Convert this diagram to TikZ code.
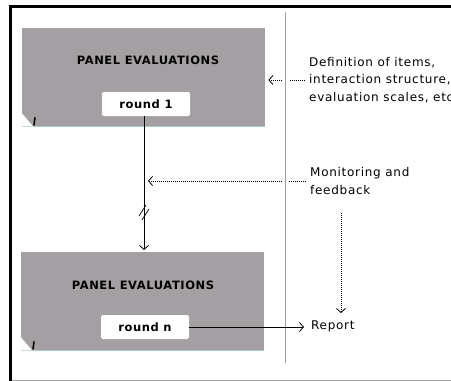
\documentclass[tikz,border=0pt]{standalone}
\usepackage{fontspec}
\setmainfont{DejaVu Sans}
\usetikzlibrary{arrows.meta}
\definecolor{panelgray}{HTML}{A49FA3}
\definecolor{tealline}{HTML}{A8CCC6}
\definecolor{vgray}{HTML}{A0A0A0}
\begin{document}
\begin{tikzpicture}[x=1pt,y=-1pt,
  panel/.style={fill=panelgray, minimum width=243pt, minimum height=98pt, inner sep=0pt, anchor=north west},
  roundbox/.style={fill=white, rounded corners=2pt, minimum width=88pt, minimum height=24pt, inner sep=0pt, font=\fontsize{11.5}{12}\selectfont\bfseries\addfontfeature{LetterSpace=5}},
  paneltitle/.style={font=\fontsize{11.5}{12}\selectfont\bfseries\addfontfeature{LetterSpace=5}},
  note/.style={font=\fontsize{12}{17.5}\selectfont\addfontfeature{LetterSpace=6}, align=left, anchor=west, inner sep=0pt},
  arr/.style={-{Straight Barb[length=4pt,width=9pt]}},
  dots/.style={dash pattern=on 1pt off 1pt, line width=0.8pt},
]
\useasboundingbox (0,0) rectangle (451,381);
\clip (0,0) rectangle (451,381);
% frame
\draw[vgray, line width=1pt] (10,380) -- (451,380);
\draw[black, line width=3pt] (10,381) -- (10,6) -- (451,6);
% gray divider
\coordinate (vt) at (285,12);
\coordinate (vb) at (285,363);
\draw[vgray, line width=1pt] (vt) -- (vb);
% panels
\node[panel] (p1) at (22,28) {};
\node[panel] (p2) at (21,252) {};
\draw[tealline, line width=1pt] (p1.south west) -- (p1.south east);
\draw[tealline, line width=1pt] (p2.south west) -- (p2.south east);
\foreach \p in {p1,p2}{
  \fill[white] ([yshift=13pt]\p.south west) -- (\p.south west) -- ([xshift=11pt]\p.south west) -- cycle;
  \draw[black, line width=1.6pt] ([xshift=13pt,yshift=9pt]\p.south west) -- ([xshift=12pt,yshift=1pt]\p.south west);
}
\node[paneltitle] (t1) at (148,60) {PANEL EVALUATIONS};
\node[paneltitle] (t2) at (143,285) {PANEL EVALUATIONS};
\node[roundbox] (r1) at (146,104) {round 1};
\node[roundbox] (rn) at (145,327) {round n};
% texts
\node[note] (def) at (309,80) {Definition of items,\\interaction structure,\\evaluation scales, etc};
\node[note] (mon) at (310,181) {Monitoring and\\feedback};
\node[note] (rep) at (311,326) {Report};
% main vertical arrow
\draw[arr, line width=0.8pt] (r1.south -| 144,0) -- (144,250) coordinate (ptop);
\draw[line width=0.7pt] (139,216) -- (146,205);
\draw[line width=0.7pt] (142,220) -- (149,209);
% report arrow
\draw[arr, line width=0.8pt] (rn.east) -- ([xshift=-7pt]rep.west |- rn.east);
% dotted arrows
\draw[dots] ([xshift=-4pt]def.west) -- (289,80);
\draw[dots, arr] (282,80) -- ([xshift=3pt]p1.east |- 0,80);
\draw[dots] ([xshift=-4pt]mon.west) -- (289,181);
\draw[dots, arr] (282,181) -- (148,181);
\coordinate (m1) at (341,213);
\draw[dots, arr] (m1) -- (m1 |- 0,313);
\end{tikzpicture}
\end{document}
